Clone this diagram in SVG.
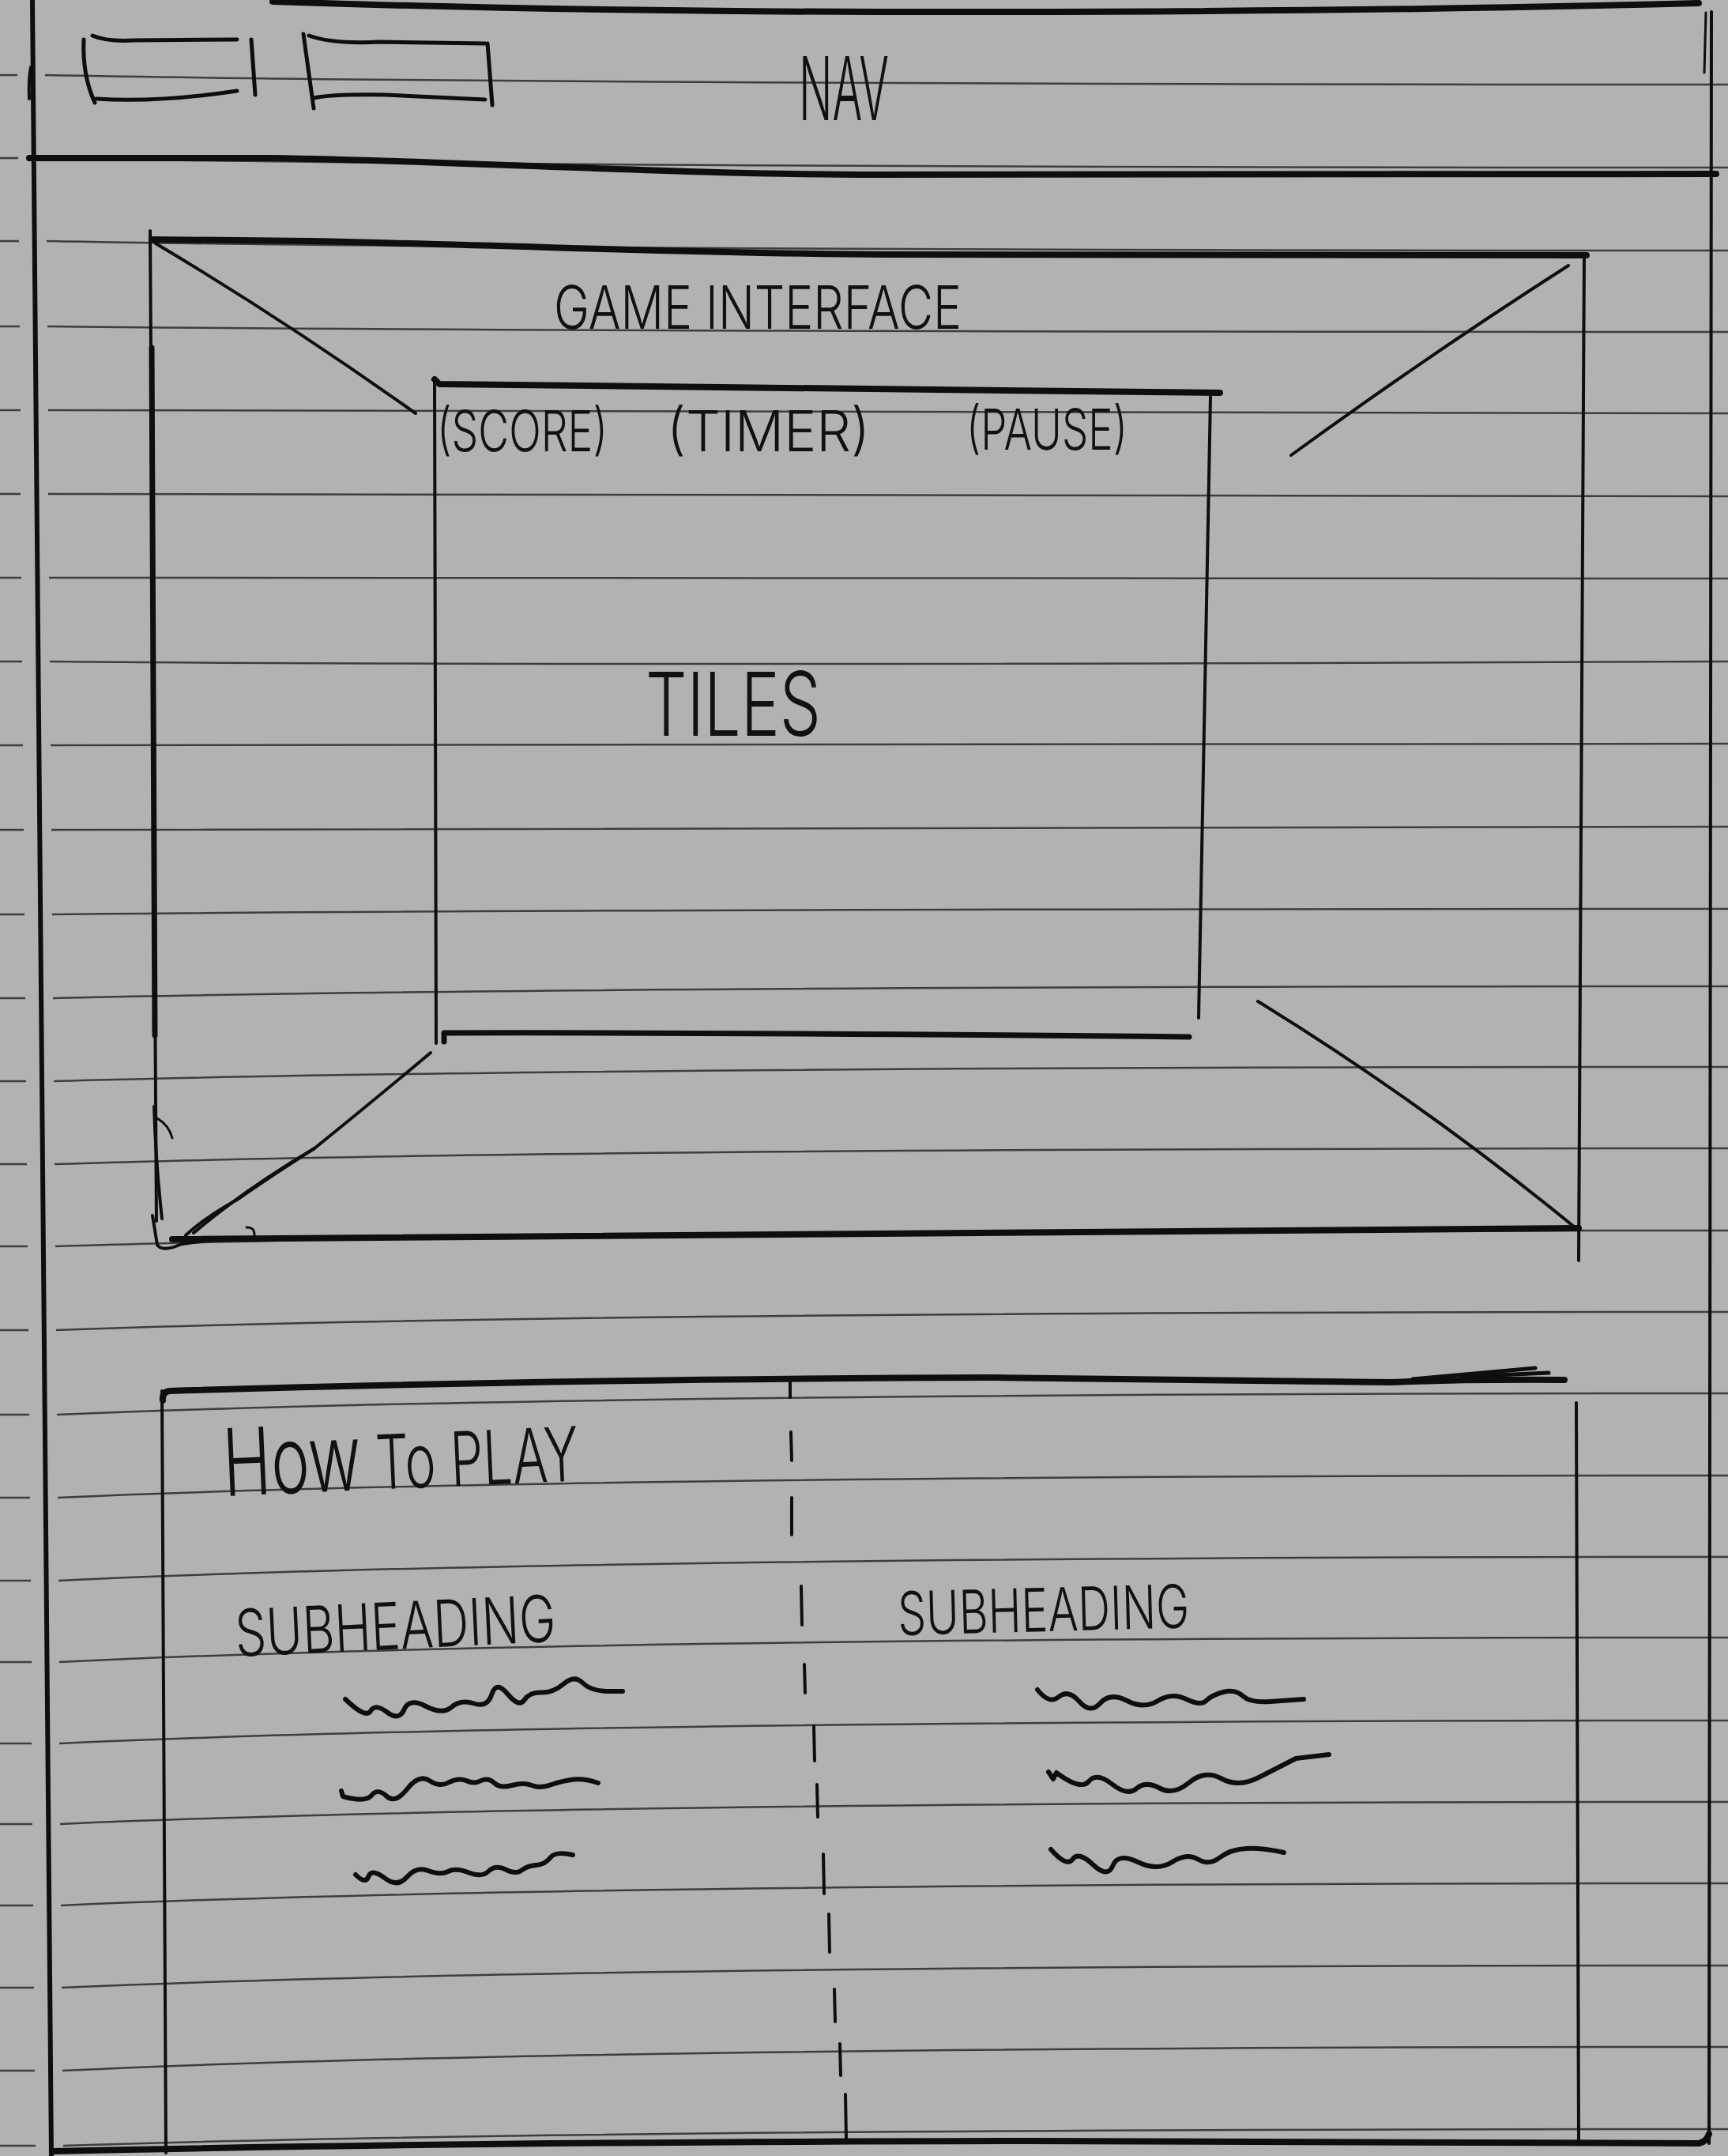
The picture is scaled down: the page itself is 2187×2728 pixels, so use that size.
<svg xmlns="http://www.w3.org/2000/svg" width="2187" height="2728" viewBox="0 0 2187 2728">
  <defs>
    <style>
      .rule { fill: none; stroke: #3e3e3e; stroke-width: 2.5; }
      .ink { fill: none; stroke: #0e0e0e; stroke-width: 4; stroke-linecap: round; stroke-linejoin: round; }
      .heavy { fill: none; stroke: #0e0e0e; stroke-width: 8; stroke-linecap: round; stroke-linejoin: round; }
      .wave { fill: none; stroke: #0e0e0e; stroke-width: 6; stroke-linecap: round; stroke-linejoin: round; }
      .hand { font-family: Inter, "Open Sans", "DejaVu Sans", sans-serif; font-weight: 300; fill: #111111; }
    </style>
  </defs>

  <!-- ruled notebook paper -->
  <g id="paper">
    <rect x="0" y="0" width="2187" height="2728" fill="#b2b2b2"/>
    <path class="rule" d="
      M0 95 H22 M57 95 Q700 107 2187 107
      M0 200 H23 M58 200 Q700 212 2187 212
      M0 305 H24 M59 305 Q700 317 2187 317
      M0 413 H25 M60 413 Q700 420 2187 420
      M0 519 H26 M61 519 Q700 523 2187 523
      M0 625 H26 M61 625 Q700 628 2187 628
      M0 731 H27 M62 731 Q700 732 2187 732
      M0 837 H28 M63 837 Q700 843 2187 837
      M0 943 H29 M64 943 Q700 941 2187 941
      M0 1050 H30 M65 1050 Q700 1046 2187 1046
      M0 1157 H31 M66 1157 Q700 1150 2187 1150
      M0 1263 H32 M67 1263 Q700 1248 2187 1248
      M0 1368 H33 M68 1368 Q700 1350 2187 1350
      M0 1473 H34 M69 1473 Q700 1453 2187 1453
      M0 1577 H35 M70 1577 Q700 1557 2187 1557
      M0 1683 H36 M71 1683 Q700 1660 2187 1660
      M0 1790 H37 M72 1790 Q700 1763 2187 1763
      M0 1895 H38 M73 1895 Q700 1867 2187 1867
      M0 2000 H39 M74 2000 Q700 1970 2187 1970
      M0 2103 H40 M75 2103 Q700 2072 2187 2072
      M0 2206 H40 M75 2206 Q700 2177 2187 2177
      M0 2308 H41 M76 2308 Q700 2280 2187 2280
      M0 2411 H42 M77 2411 Q700 2383 2187 2383
      M0 2515 H43 M78 2515 Q700 2487 2187 2487
      M0 2620 H44 M79 2620 Q700 2590 2187 2590
      M0 2715 H45 M80 2715 Q700 2694 2187 2694"/>
  </g>

  <!-- page frame -->
  <g id="page-frame">
    <path class="ink" style="stroke-width:6" d="M41 0 L65 2728"/>
    <path class="ink" d="M39 85 Q36 100 37 125"/>
    <path class="ink" d="M2166 15 L2163 2712"/>
    <path class="ink" style="stroke-width:3" d="M2159 16 L2157 92"/>
    <path class="heavy" d="M345 2 Q700 14 1110 15 Q1700 16 2150 4"/>
    <path class="heavy" d="M68 2722 Q600 2710 1300 2709 L2150 2712 Q2160 2710 2163 2700"/>
  </g>

  <!-- navigation bar -->
  <g id="nav">
    <path class="heavy" d="M37 200 L345 200 C600 204 850 221 1110 221 L2172 220"/>
    <g id="nav-button-1">
      <path class="ink" style="stroke-width:5" d="M106 50 Q104 95 120 130"/>
      <path class="ink" style="stroke-width:5" d="M117 45 Q135 53 170 51 L300 50"/>
      <path class="ink" style="stroke-width:5" d="M318 50 L323 120"/>
      <path class="ink" style="stroke-width:5" d="M122 125 Q200 130 300 115"/>
    </g>
    <g id="nav-button-2">
      <path class="ink" style="stroke-width:5" d="M384 43 L397 137"/>
      <path class="ink" style="stroke-width:5" d="M391 45 Q420 56 480 53 L614 55"/>
      <path class="ink" style="stroke-width:5" d="M617 55 L623 133"/>
      <path class="ink" style="stroke-width:5" d="M397 124 Q420 119 488 120 L614 126"/>
    </g>
    <text class="hand" x="1011" y="152" font-size="112" textLength="114" lengthAdjust="spacingAndGlyphs">NAV</text>
  </g>

  <!-- game interface panel -->
  <g id="game-interface">
    <path class="heavy" d="M192 303 L392 305 C700 312 900 321 1120 322 L2008 323"/>
    <path class="ink" d="M190 292 L198 1545"/>
    <path class="ink" style="stroke-width:7" d="M192 440 L196 1310"/>
    <path class="ink" d="M195 1400 Q197 1470 205 1542"/>
    <path class="ink" style="stroke-width:3" d="M199 1415 Q214 1424 218 1440"/>
    <path class="ink" d="M193 1538 L199 1575 Q205 1585 230 1574 Q270 1568 300 1568"/>
    <path class="heavy" d="M218 1568 Q700 1562 1998 1554"/>
    <path class="ink" style="stroke-width:3" d="M312 1553 Q322 1552 322 1563"/>
    <path class="ink" d="M2005 322 L1998 1595"/>

    <!-- perspective corner lines -->
    <path class="ink" d="M197 308 Q360 405 526 523"/>
    <path class="ink" d="M1985 336 Q1810 448 1634 576"/>
    <path class="ink" d="M545 1332 Q470 1395 398 1453 Q310 1505 245 1560"/>
    <path class="ink" d="M398 1453 Q340 1490 300 1518 Q260 1540 235 1563"/>
    <path class="ink" d="M1592 1267 Q1800 1395 1992 1552"/>

    <g id="tiles-board">
      <path class="heavy" d="M550 480 L556 486 Q900 490 1544 497"/>
      <path class="ink" d="M550 480 L552 1320"/>
      <path class="ink" d="M1532 502 L1517 1288"/>
      <path class="heavy" style="stroke-width:7" d="M562 1318 L562 1307 Q900 1306 1505 1312"/>
      <text class="hand" x="553" y="571" font-size="72" textLength="216" lengthAdjust="spacingAndGlyphs">(SCORE)</text>
      <text class="hand" x="844" y="571" font-size="72" textLength="257" lengthAdjust="spacingAndGlyphs">(TIMER)</text>
      <text class="hand" x="1223" y="569" font-size="72" textLength="204" lengthAdjust="spacingAndGlyphs">(PAUSE)</text>
      <text class="hand" x="817" y="931" font-size="112" textLength="222" lengthAdjust="spacingAndGlyphs">TILES</text>
    </g>

    <text class="hand" x="701" y="416" font-size="76" textLength="516" lengthAdjust="spacingAndGlyphs">GAME INTERFACE</text>
  </g>

  <!-- how to play panel -->
  <g id="how-to-play">
    <path class="heavy" d="M206 1772 Q205 1761 215 1760 Q700 1745 1255 1743 L1757 1749 Q1860 1745 1980 1746"/>
    <path class="ink" style="stroke-width:5" d="M1788 1745 L1943 1731"/>
    <path class="ink" style="stroke-width:5" d="M1850 1742 L1960 1737"/>
    <path class="ink" d="M205 1760 L210 2724"/>
    <path class="ink" d="M1995 1775 L1998 2710"/>

    <!-- dashed column divider -->
    <path class="ink" d="M1000 1749 L1000 1768 M1001 1812 L1002 1848 M1002 1895 L1002 1942 M1014 2007 L1015 2056 M1018 2106 L1019 2142 M1030 2184 L1031 2228 M1034 2258 L1035 2299 M1042 2346 L1043 2396 M1049 2422 L1050 2470 M1056 2517 L1057 2558 M1063 2586 L1064 2626 M1070 2650 L1071 2707"/>

    <text class="hand" x="284" y="1893" transform="rotate(-2.5 284 1893)" textLength="450" lengthAdjust="spacingAndGlyphs"><tspan font-size="118">How</tspan><tspan font-size="95"> To PLAY</tspan></text>

    <g id="column-left">
      <text class="hand" x="299" y="2096" font-size="82" transform="rotate(-2.7 299 2096)" textLength="406" lengthAdjust="spacingAndGlyphs">SUBHEADING</text>
      <path class="wave" d="M437 2150 Q463 2175 469 2165 Q475 2155 490 2166.5 Q505 2178 511.5 2163 Q518 2148 539 2159 Q560 2170 571.5 2160 Q583 2150 600 2155.5 Q617 2161 622.5 2143.5 Q628 2126 642.5 2143.5 Q657 2161 663.5 2151 Q670 2141 685 2141.5 Q700 2142 713.5 2130.5 Q727 2119 737 2129 Q747 2139 767 2140 L788 2140"/>
      <path class="wave" d="M432 2266 L434 2273 Q462 2281 470 2272 Q478 2262 489 2272.5 Q500 2283 515 2264 Q530 2244.5 543.5 2253 Q557 2262 568.5 2255 Q580 2249 590 2253 Q600 2258 609 2253 Q618 2249 625.5 2256 Q633 2263 648 2259 Q663 2255 673 2259 Q683 2263.5 698 2258 Q713 2253 726.5 2251.5 Q740 2250 757 2256"/>
      <path class="wave" d="M450 2372 Q463 2385 466.5 2374 Q470 2364 486.5 2376 Q503 2389 515 2375 Q527 2361 542 2367 Q557 2373 567 2368 Q577 2363 593.5 2369.5 Q610 2376 618.5 2367.5 Q627 2359 640 2365.5 Q653 2372 660 2366.5 Q667 2361 678.5 2360 Q690 2359 696.5 2350.5 Q703 2342 725 2347"/>
    </g>

    <g id="column-right">
      <text class="hand" x="1137" y="2069" font-size="76" transform="rotate(-1.5 1137 2069)" textLength="369" lengthAdjust="spacingAndGlyphs">SUBHEADING</text>
      <path class="wave" d="M1313 2138 Q1328 2157 1340 2147 Q1352 2137 1366 2153 Q1380 2169 1392.5 2155 Q1405 2141 1426.5 2152 Q1448 2163 1465.5 2152 Q1483 2141 1501.5 2150 Q1520 2159 1526.5 2152 Q1533 2145 1548 2141 Q1563 2137 1573 2146 Q1583 2155 1608 2153 L1650 2150"/>
      <path class="wave" d="M1327 2242 L1333 2251 L1337 2243 Q1368 2266 1378 2254 Q1388 2242 1407.5 2257.5 Q1427 2273 1438.5 2263 Q1450 2253 1467.5 2262.5 Q1485 2272 1505 2255.5 Q1525 2239 1546 2250.5 Q1567 2262 1592 2249.5 Q1617 2237 1640 2225 L1682 2220"/>
      <path class="wave" d="M1330 2340 Q1350 2363 1357.5 2352.5 Q1365 2342 1383.5 2359.5 Q1402 2377 1408.5 2360.5 Q1415 2344 1440 2356 Q1465 2368 1483.5 2356 Q1502 2344 1516 2352.5 Q1530 2361 1543.5 2350.5 Q1557 2340 1577 2339 Q1597 2338 1625 2344"/>
    </g>
  </g>
</svg>
